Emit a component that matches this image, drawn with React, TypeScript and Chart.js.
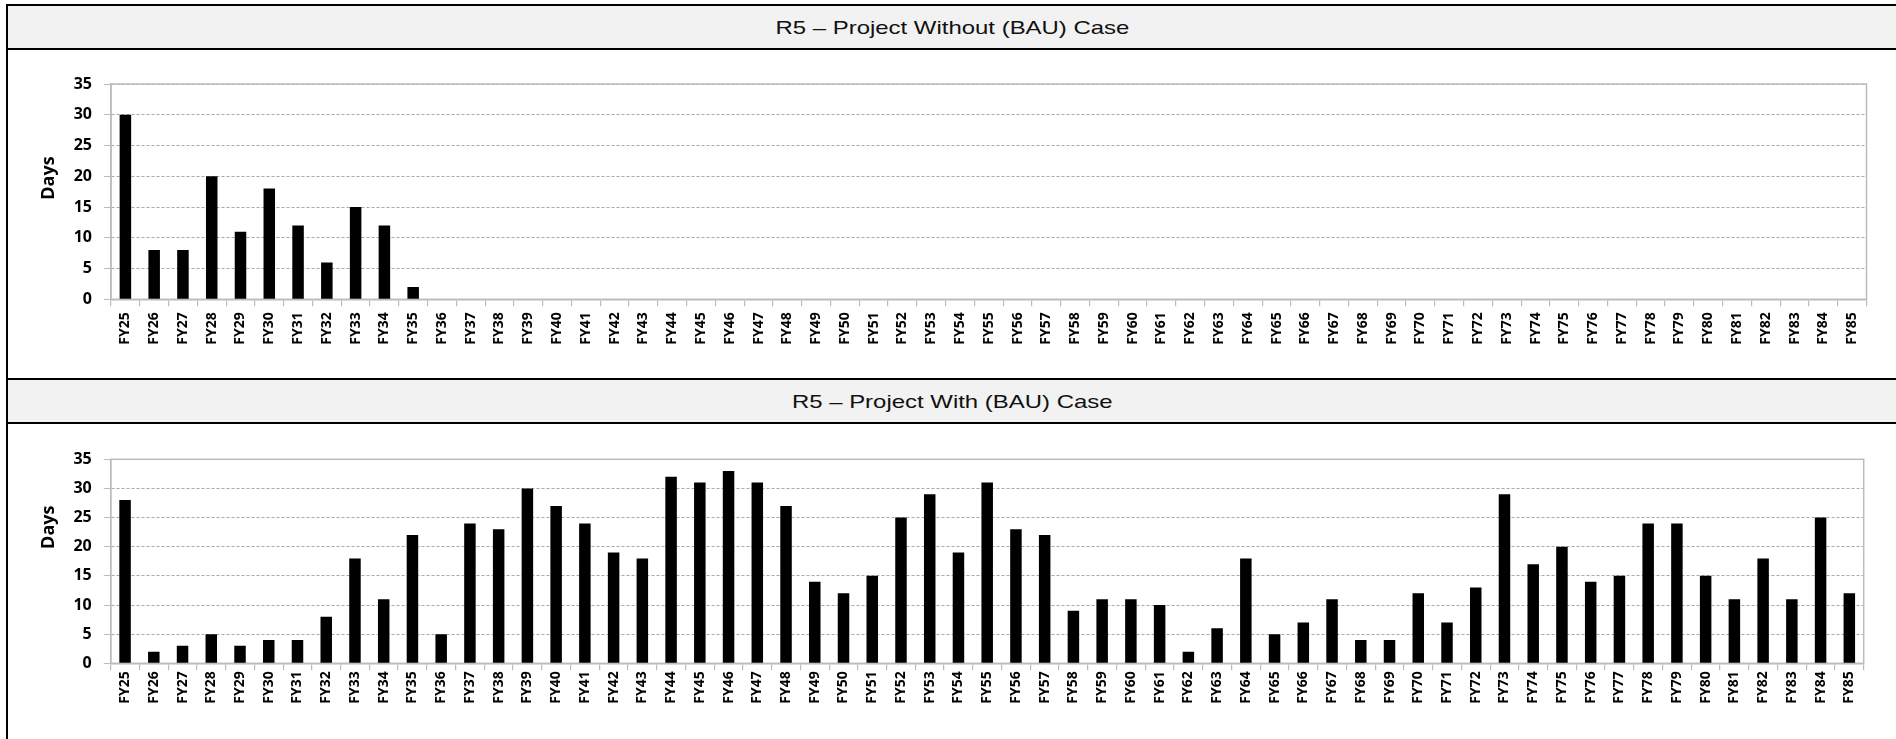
import React, { useEffect, useRef } from 'react';
import { Chart, registerables } from 'chart.js';

Chart.register(...registerables);

const categories = [
  'FY25', 'FY26', 'FY27', 'FY28', 'FY29', 'FY30', 'FY31', 'FY32', 'FY33', 'FY34',
  'FY35', 'FY36', 'FY37', 'FY38', 'FY39', 'FY40', 'FY41', 'FY42', 'FY43', 'FY44',
  'FY45', 'FY46', 'FY47', 'FY48', 'FY49', 'FY50', 'FY51', 'FY52', 'FY53', 'FY54',
  'FY55', 'FY56', 'FY57', 'FY58', 'FY59', 'FY60', 'FY61', 'FY62', 'FY63', 'FY64',
  'FY65', 'FY66', 'FY67', 'FY68', 'FY69', 'FY70', 'FY71', 'FY72', 'FY73', 'FY74',
  'FY75', 'FY76', 'FY77', 'FY78', 'FY79', 'FY80', 'FY81', 'FY82', 'FY83', 'FY84',
  'FY85',
];

const withoutDays = [
  30, 8, 8, 20, 11, 18, 12, 6, 15, 12,
  2, 0, 0, 0, 0, 0, 0, 0, 0, 0,
  0, 0, 0, 0, 0, 0, 0, 0, 0, 0,
  0, 0, 0, 0, 0, 0, 0, 0, 0, 0,
  0, 0, 0, 0, 0, 0, 0, 0, 0, 0,
  0, 0, 0, 0, 0, 0, 0, 0, 0, 0,
  0,
];

const withDays = [
  28, 2, 3, 5, 3, 4, 4, 8, 18, 11,
  22, 5, 24, 23, 30, 27, 24, 19, 18, 32,
  31, 33, 31, 27, 14, 12, 15, 25, 29, 19,
  31, 23, 22, 9, 11, 11, 10, 2, 6, 18,
  5, 7, 11, 4, 4, 12, 7, 13, 29, 17,
  20, 14, 15, 24, 24, 15, 11, 18, 11, 25,
  12,
];

const titleWithout = 'R5 \u2013 Project Without (BAU) Case';
const titleWith = 'R5 \u2013 Project With (BAU) Case';
const yTitle = 'Days';
const yMin = 0;
const yMax = 35;
const yStep = 5;

const framePlugin = {
  id: 'frame',
  beforeDatasetsDraw(chart: any, _args: any, opts: any) {
    const { ctx, chartArea } = chart;
    const { left, top, right, bottom } = chartArea;
    ctx.save();
    ctx.strokeStyle = opts.color;
    ctx.lineWidth = opts.width;
    ctx.setLineDash([]);
    ctx.strokeRect(left, top, right - left, bottom - top);
    ctx.restore();
  },
  afterDraw(chart: any, _args: any, opts: any) {
    const { ctx, chartArea } = chart;
    ctx.save();
    ctx.font = 'bold 18px "Open Sans"';
    ctx.fillStyle = '#000';
    ctx.textAlign = 'center';
    ctx.textBaseline = 'middle';
    ctx.translate(
      chartArea.left + opts.titleDx,
      chartArea.top + opts.titleFrac * (chartArea.bottom - chartArea.top)
    );
    ctx.rotate(-Math.PI / 2);
    ctx.fillText(opts.title, 0, 0);
    ctx.restore();
  },
};

type ChartBoxProps = {
  values: number[];
  width: number;
  height: number;
  padTop: number;
  padRight: number;
  yWidth: number;
  xHeight: number;
  xPad: number;
  titleFrac: number;
};

function ChartBox(p: ChartBoxProps) {
  const ref = useRef<HTMLCanvasElement | null>(null);
  useEffect(() => {
    if (!ref.current) return;
    const chart = new Chart(ref.current, {
      type: 'bar',
      data: {
        labels: categories,
        datasets: [
          {
            data: p.values,
            backgroundColor: '#000000',
            borderWidth: 0,
            barPercentage: 0.4,
            categoryPercentage: 1.0,
          },
        ],
      },
      options: {
        responsive: false,
        animation: false,
        maintainAspectRatio: false,
        layout: { padding: { top: p.padTop, right: p.padRight, left: 0, bottom: 0 } },
        plugins: {
          legend: { display: false },
          tooltip: { enabled: false },
          title: { display: false },
          frame: { color: '#bcbcbc', width: 1.5, title: yTitle, titleDx: -62, titleFrac: p.titleFrac },
        } as any,
        scales: {
          x: {
            offset: true,
            grid: {
              offset: true,
              display: true,
              drawOnChartArea: false,
              drawTicks: true,
              tickLength: 7,
              color: '#bcbcbc',
              tickColor: '#bcbcbc',
              lineWidth: 1.2,
            },
            border: { display: true, color: '#bcbcbc', width: 1.5 },
            ticks: {
              autoSkip: false,
              minRotation: 90,
              maxRotation: 90,
              padding: p.xPad,
              color: '#000',
              font: { family: '"Open Sans"', size: 14, weight: 'bold' },
            },
            afterFit: (scale: any) => {
              scale.height = p.xHeight;
            },
          },
          y: {
            min: yMin,
            max: yMax,
            ticks: {
              stepSize: yStep,
              padding: 12,
              color: '#000',
              font: { family: '"Open Sans"', size: 16, weight: 'bold' },
            },
            grid: {
              color: '#a8a8a8',
              lineWidth: 1,
              drawTicks: true,
              tickLength: 7,
              tickColor: '#bcbcbc',
            },
            border: { display: true, color: '#bcbcbc', width: 1.5, dash: [3, 2] },
            afterFit: (scale: any) => {
              scale.width = p.yWidth;
            },
          },
        },
      } as any,
      plugins: [framePlugin as any],
    });
    return () => chart.destroy();
  }, []);
  return (
    <canvas
      ref={ref}
      width={p.width}
      height={p.height}
      style={{ width: p.width, height: p.height, display: 'block' }}
    />
  );
}

const black = '#000';

function Line(props: { top: number; left?: number; width?: number; height?: number }) {
  return (
    <div
      style={{
        position: 'absolute',
        left: props.left ?? 6,
        top: props.top,
        width: props.width ?? 1900,
        height: props.height ?? 2,
        background: black,
      }}
    />
  );
}

function Header(props: { top: number; text: string }) {
  return (
    <div
      style={{
        position: 'absolute',
        left: 8,
        top: props.top,
        width: 1888,
        height: 42,
        background: '#f2f2f2',
        display: 'flex',
        alignItems: 'center',
        justifyContent: 'center',
      }}
    >
      <span
        style={{
          display: 'inline-block',
          fontFamily: '"Liberation Sans", Arial, sans-serif',
          fontSize: 19,
          color: '#111',
          transform: 'scaleX(1.26)',
          transformOrigin: 'center',
          whiteSpace: 'nowrap',
          lineHeight: '22px',
          marginTop: 1,
        }}
      >
        {props.text}
      </span>
    </div>
  );
}

export default function App() {
  return (
    <div
      style={{
        position: 'absolute',
        left: 0,
        top: 0,
        width: 1896,
        height: 739,
        background: '#fff',
        overflow: 'hidden',
      }}
    >
      <Header top={6} text={titleWithout} />
      <Header top={380} text={titleWith} />
      <div style={{ position: 'absolute', left: 8, top: 50 }}>
        <ChartBox
          values={withoutDays}
          width={1888}
          height={328}
          padTop={34}
          padRight={29.5}
          yWidth={103}
          xHeight={78.7}
          xPad={6}
          titleFrac={0.437}
        />
      </div>
      <div style={{ position: 'absolute', left: 8, top: 424 }}>
        <ChartBox
          values={withDays}
          width={1888}
          height={315}
          padTop={35.3}
          padRight={32.3}
          yWidth={102.7}
          xHeight={75.7}
          xPad={1}
          titleFrac={0.333}
        />
      </div>
      <Line top={4} />
      <Line top={48} />
      <Line top={378} />
      <Line top={422} />
      <Line top={4} left={6} width={2} height={735} />
    </div>
  );
}
